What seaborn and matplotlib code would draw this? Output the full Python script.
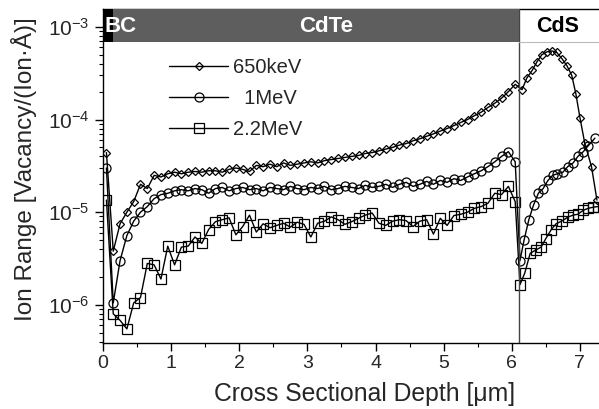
import numpy as np
import pandas as pd
import matplotlib
matplotlib.use("Agg")
import matplotlib.pyplot as plt
import matplotlib.ticker as mticker
from matplotlib.patches import Rectangle
import seaborn as sns

# depth grid (um) for CdTe side and CdS side
x_cdte = [round(0.05 + 0.1 * i, 2) for i in range(61)]
x_cds_650 = [6.15, 6.22, 6.30, 6.37, 6.44, 6.52, 6.59, 6.66, 6.74, 6.81, 6.88, 6.94, 7.00, 7.07, 7.17, 7.25]
x_cds_1 = [6.12, 6.18, 6.25, 6.32, 6.39, 6.46, 6.53, 6.60, 6.67, 6.75, 6.82, 6.90, 6.97, 7.05, 7.12, 7.22]
x_cds_22 = [6.12, 6.19, 6.27, 6.35, 6.43, 6.50, 6.58, 6.65, 6.73, 6.83, 6.90, 6.97, 7.05, 7.12, 7.19, 7.26]

y_650_cdte = [4.4e-5, 3.8e-6, 7.5e-6, 1.0e-5, 1.3e-5, 2.0e-5, 1.8e-5, 2.5e-5, 2.4e-5, 2.6e-5,
              2.7e-5, 2.6e-5, 2.7e-5, 2.75e-5, 2.7e-5, 2.8e-5, 2.8e-5, 2.7e-5, 2.9e-5, 3.0e-5,
              2.9e-5, 2.75e-5, 3.2e-5, 3.1e-5, 3.3e-5, 3.1e-5, 3.4e-5, 3.2e-5, 3.3e-5, 3.4e-5,
              3.5e-5, 3.4e-5, 3.6e-5, 3.7e-5, 3.8e-5, 3.9e-5, 4.0e-5, 4.1e-5, 4.3e-5, 4.4e-5,
              4.6e-5, 4.8e-5, 5.0e-5, 5.3e-5, 5.5e-5, 5.9e-5, 6.2e-5, 6.6e-5, 7.0e-5, 7.5e-5,
              8.0e-5, 8.6e-5, 9.3e-5, 1.0e-4, 1.1e-4, 1.2e-4, 1.35e-4, 1.5e-4, 1.7e-4, 2.0e-4,
              2.4e-4]
y_650_cds = [2.1e-4, 2.8e-4, 3.4e-4, 4.2e-4, 5.0e-4, 5.4e-4, 5.5e-4, 5.3e-4, 4.5e-4, 3.8e-4,
             3.0e-4, 1.9e-4, 1.05e-4, 5.6e-5, 3.1e-5, 1.35e-5]

y_1_cdte = [3.0e-5, 1.05e-6, 3.0e-6, 5.6e-6, 8.0e-6, 1.0e-5, 1.15e-5, 1.4e-5, 1.55e-5, 1.6e-5,
            1.7e-5, 1.75e-5, 1.7e-5, 1.8e-5, 1.75e-5, 1.6e-5, 1.8e-5, 1.85e-5, 1.7e-5, 1.8e-5,
            1.85e-5, 1.75e-5, 1.8e-5, 1.7e-5, 1.85e-5, 1.8e-5, 1.75e-5, 1.9e-5, 1.8e-5, 1.75e-5,
            1.85e-5, 1.8e-5, 1.9e-5, 1.75e-5, 1.8e-5, 1.9e-5, 1.85e-5, 1.8e-5, 1.95e-5, 1.85e-5,
            1.9e-5, 2.0e-5, 1.85e-5, 2.0e-5, 2.1e-5, 1.9e-5, 2.0e-5, 2.15e-5, 2.0e-5, 2.2e-5,
            2.1e-5, 2.3e-5, 2.2e-5, 2.4e-5, 2.6e-5, 2.8e-5, 3.1e-5, 3.5e-5, 4.0e-5, 4.5e-5,
            3.5e-5]
y_1_cds = [3.0e-6, 5.0e-6, 8.3e-6, 1.2e-5, 1.6e-5, 1.8e-5, 2.2e-5, 2.5e-5, 2.6e-5, 2.7e-5,
           3.1e-5, 3.4e-5, 4.0e-5, 4.5e-5, 5.2e-5, 6.3e-5]

y_22_cdte = [1.35e-5, 8.0e-7, 6.8e-7, 5.5e-7, 1.05e-6, 1.2e-6, 2.8e-6, 2.7e-6, 1.9e-6, 4.3e-6,
             2.7e-6, 4.2e-6, 4.3e-6, 5.4e-6, 4.6e-6, 6.5e-6, 7.9e-6, 8.3e-6, 8.7e-6, 5.7e-6,
             7.0e-6, 9.3e-6, 6.1e-6, 7.5e-6, 6.8e-6, 7.2e-6, 7.6e-6, 6.9e-6, 7.8e-6, 7.4e-6,
             5.4e-6, 7.6e-6, 8.0e-6, 8.9e-6, 8.3e-6, 7.4e-6, 7.9e-6, 8.6e-6, 9.3e-6, 9.8e-6,
             7.6e-6, 7.2e-6, 8.0e-6, 8.3e-6, 8.1e-6, 7.0e-6, 8.0e-6, 8.3e-6, 5.8e-6, 8.6e-6,
             7.2e-6, 9.2e-6, 9.5e-6, 1.0e-5, 1.1e-5, 1.15e-5, 1.25e-5, 1.6e-5, 1.55e-5, 1.9e-5,
             1.3e-5]
y_22_cds = [1.65e-6, 2.2e-6, 3.6e-6, 3.9e-6, 4.2e-6, 5.2e-6, 6.5e-6, 7.5e-6, 8.0e-6, 8.9e-6,
            9.3e-6, 9.5e-6, 1.05e-5, 1.1e-5, 1.13e-5, 1.15e-5]

labels = ["650keV", "  1MeV", "2.2MeV"]
markers = ["D", "o", "s"]
msizes = [4.5, 6.5, 6.5]

df = pd.DataFrame({
    "depth": x_cdte + x_cds_650 + x_cdte + x_cds_1 + x_cdte + x_cds_22,
    "value": y_650_cdte + y_650_cds + y_1_cdte + y_1_cds + y_22_cdte + y_22_cds,
    "energy": [labels[0]] * (61 + len(x_cds_650)) + [labels[1]] * (61 + len(x_cds_1))
              + [labels[2]] * (61 + len(x_cds_22)),
})

sns.set_style("ticks")
plt.rcParams["font.family"] = ["Liberation Sans", "DejaVu Sans"]
plt.rcParams["mathtext.fontset"] = "custom"
plt.rcParams["mathtext.rm"] = "Liberation Sans"
plt.rcParams["mathtext.it"] = "Liberation Sans:italic"
plt.rcParams["mathtext.bf"] = "Liberation Sans:bold"

fig = plt.figure(figsize=(5.99, 4.09), dpi=100)
ax = fig.add_axes([0.172, 0.162, 0.828, 0.816])

for lab, mk, ms in zip(labels, markers, msizes):
    sub = df[df["energy"] == lab]
    sns.lineplot(data=sub, x="depth", y="value", ax=ax, sort=False, estimator=None,
                 color="black", lw=1.0, marker=mk, markersize=ms,
                 markerfacecolor="none", markeredgecolor="black", markeredgewidth=0.9,
                 label=lab)

ax.set_yscale("log")
ax.set_xlim(0, 7.28)
ax.set_ylim(3.9e-7, 1.56e-3)

# layer band on top
tr = ax.get_xaxis_transform()
ax.add_patch(Rectangle((0, 0.9), 6.1, 0.1, transform=tr, facecolor="#5e5e5e",
                       edgecolor="none", zorder=5, clip_on=False))
ax.add_patch(Rectangle((0, 0.9), 0.14, 0.1, transform=tr, facecolor="black",
                       edgecolor="none", zorder=6, clip_on=False))
ax.plot([6.1, 7.28], [0.9, 0.9], transform=tr, color="#bbbbbb", lw=0.8, zorder=5)
ax.axvline(6.1, color="#444444", lw=1.0, zorder=4)
ax.text(0.02, 0.947, "BC", transform=tr, color="white", fontsize=16,
        fontweight="bold", va="center", ha="left", zorder=7)
ax.text(3.28, 0.947, "CdTe", transform=tr, color="white", fontsize=16,
        fontweight="bold", va="center", ha="center", zorder=7)
ax.text(6.67, 0.947, "CdS", transform=tr, color="black", fontsize=15.5,
        fontweight="bold", va="center", ha="center", zorder=7)

ax.xaxis.set_major_locator(mticker.MultipleLocator(1))
ax.xaxis.set_minor_locator(mticker.MultipleLocator(0.5))
ax.yaxis.set_major_locator(mticker.LogLocator(base=10, numticks=10))
ax.yaxis.set_minor_locator(mticker.LogLocator(base=10, subs=np.arange(2, 10), numticks=10))
ax.yaxis.set_minor_formatter(mticker.NullFormatter())
ax.tick_params(axis="both", which="major", direction="out", length=5.5, width=1.0,
               color="black")
ax.tick_params(axis="both", which="minor", direction="out", length=3, width=0.8,
               color="black")
ax.tick_params(axis="x", labelsize=14, pad=3.5)
ax.tick_params(axis="y", labelsize=15, pad=4)

for s in ["left", "bottom", "top"]:
    ax.spines[s].set_color("black")
    ax.spines[s].set_linewidth(1.0)
ax.spines["right"].set_visible(False)

ax.set_xlabel("Cross Sectional Depth [μm]", fontsize=17.8)
ax.set_ylabel("Ion Range [Vacancy/(Ion·Å)]", fontsize=17.5)
ax.xaxis.set_label_coords(0.528, -0.118)
ax.yaxis.set_label_coords(-0.133, 0.52)

leg = ax.legend(loc="upper left", bbox_to_anchor=(0.133, 0.853), frameon=False,
                fontsize=14.5, handlelength=2.95, handletextpad=0.25, labelspacing=0.6,
                borderpad=0, borderaxespad=0, numpoints=1)

fig.savefig("out.png", dpi=100)
